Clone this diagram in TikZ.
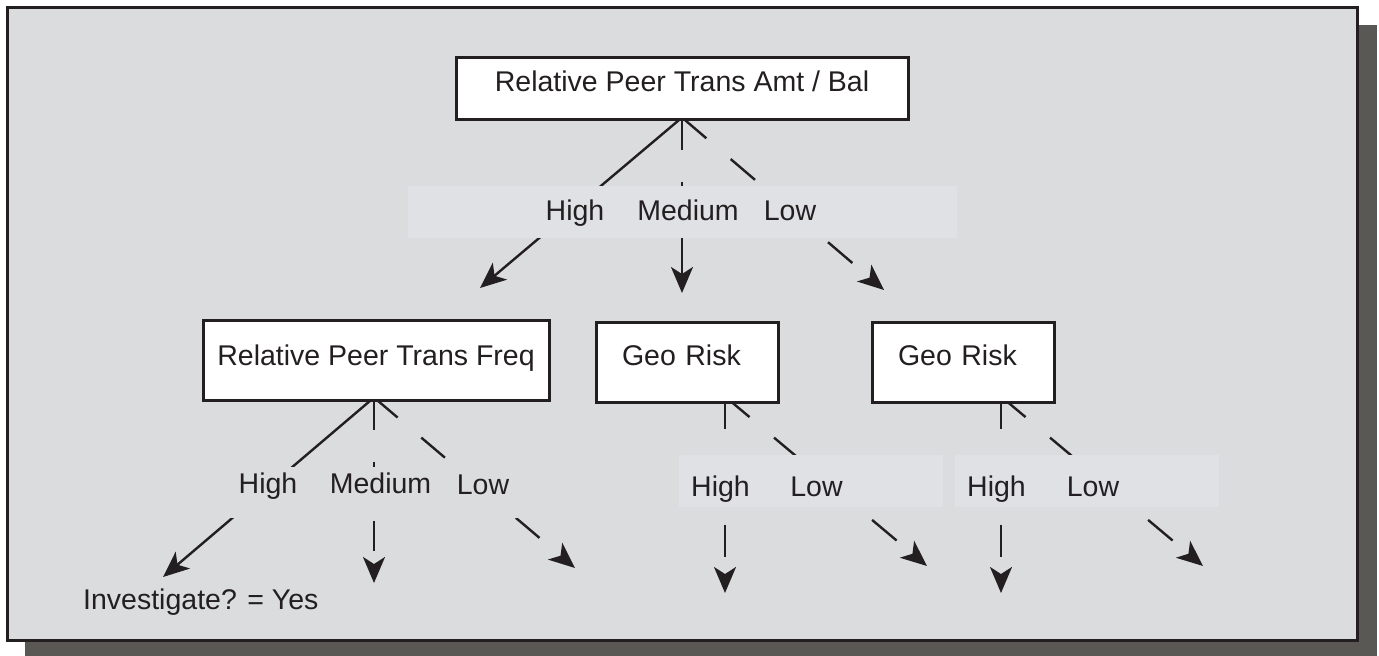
\documentclass[tikz,border=0pt]{standalone}
\usepackage{fontspec}
\setmainfont{Liberation Sans}
\usetikzlibrary{arrows.meta,calc}
\pgfdeclarelayer{back}
\pgfdeclarelayer{lines}
\pgfdeclarelayer{bands}
\pgfsetlayers{back,lines,bands,main}
\definecolor{bgc}{HTML}{DBDCDE}
\definecolor{bandc}{HTML}{DFE1E5}
\definecolor{shadowc}{HTML}{595855}
\definecolor{ink}{HTML}{231F20}
\begin{document}
\begin{tikzpicture}[x=1pt,y=-1pt,
  font=\fontsize{28.5}{34}\selectfont,
  box/.style={draw=ink, line width=3pt, fill=white, inner sep=0pt, text=ink},
  geobox/.style={box, text width=130pt, align=left, inner xsep=26pt, minimum height=80pt, text height=20pt, text depth=14pt},
  lbl/.style={anchor=base, inner sep=0pt, text=ink},
  conn/.style={draw=ink, line width=2.4pt, -{Stealth[length=26pt,width=22pt,inset=7pt]}},
  dsh/.style={dash pattern=on 32pt off 32pt},
  band/.style={inner sep=0pt, fill=bandc, minimum height=52pt},
]
\useasboundingbox (0,0) rectangle (1379,656);
\begin{pgfonlayer}{back}
\fill[shadowc] (25,25) rectangle (1377,656);
\filldraw[fill=bgc, draw=ink, line width=3pt] (7,7) rectangle (1357,640);
\end{pgfonlayer}

% boxes
\node[box, minimum width=452pt, minimum height=62pt, text height=20pt, text depth=14pt] (top) at (682,88) {Relative Peer Trans Amt / Bal};
\node[box, minimum width=346pt, minimum height=80pt, text height=20pt, text depth=10pt] (freq) at (376,360) {Relative Peer Trans Freq};
\node[geobox] (geoA) at (687,362) {Geo Risk};
\node[geobox] (geoB) at (963,362) {Geo Risk};

% label bands
\begin{pgfonlayer}{bands}
\node[band, minimum width=549pt] (bandT) at (682.5,212) {};
\node[band, fill=bgc, minimum width=298pt, minimum height=51pt] (bandL) at (371,492.5) {};
\node[band, minimum width=264pt] (bandA) at (811,481) {};
\node[band, minimum width=264pt] (bandB) at (1087,481) {};
\end{pgfonlayer}

% labels
\node[lbl] (tH) at (575,220) {High};
\node[lbl] (tM) at (688,220) {Medium};
\node[lbl] (tL) at (790,220) {Low};
\node[lbl] (lH) at (268,493) {High};
\node[lbl] (lM) at (380.5,493) {Medium};
\node[lbl] (lL) at (483,494) {Low};
\node[lbl] (aH) at (720.5,496) {High};
\node[lbl] (aL) at (816.5,496) {Low};
\node[lbl] (bH) at (996.5,496) {High};
\node[lbl] (bL) at (1093,496) {Low};
\node[lbl, anchor=base west] (inv) at (83,609) {Investigate? = Yes};

% connector ends
\coordinate (tTH) at (480,288);
\coordinate (tTM) at (682,293);
\coordinate (tTL) at (884,290);
\coordinate (tLH) at (163,577);
\coordinate (tLM) at (374,583);
\coordinate (tLL) at (575,568);
\coordinate (tAH) at (725,593);
\coordinate (tAL) at (927,566);
\coordinate (tBH) at (1001,593);
\coordinate (tBL) at (1203,566);

\begin{pgfonlayer}{lines}
\coordinate (oT) at ([yshift=3pt]top.south);
\coordinate (oL) at ([xshift=-2pt,yshift=4pt]freq.south);
\coordinate (oA) at ([xshift=38pt,yshift=7pt]geoA.south);
\coordinate (oB) at ([xshift=38pt,yshift=7pt]geoB.south);
\draw[conn] (oT) -- (tTH);
\draw[conn, dash pattern=on 32pt off 32pt on 32pt off 10pt on 300pt] (oT) -- (tTM);
\draw[conn, dsh] (oT) -- (tTL);
\draw[conn] (oL) -- (tLH);
\draw[conn, dash pattern=on 32pt off 32pt on 32pt off 27pt on 30pt off 40pt] (oL) -- (tLM);
\draw[conn, dash pattern=on 31pt off 31pt] (oL) -- (tLL);
\draw[conn, dsh] (oA) -- (tAH);
\draw[conn, dsh] (oA) -- (tAL);
\draw[conn, dsh] (oB) -- (tBH);
\draw[conn, dsh] (oB) -- (tBL);
\end{pgfonlayer}
\end{tikzpicture}
\end{document}
